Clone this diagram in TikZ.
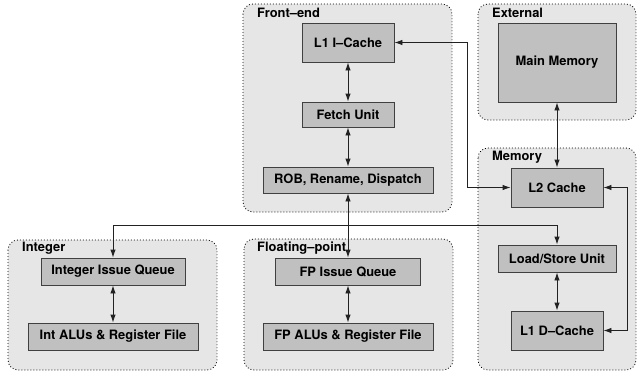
\documentclass[tikz,border=0pt]{standalone}
\usepackage{fontspec}
\setmainfont{TeX Gyre Heros}
\usetikzlibrary{arrows.meta}
\definecolor{grpfill}{HTML}{E6E6E6}
\definecolor{boxfill}{HTML}{C0C0C0}
\definecolor{boxline}{HTML}{404040}
\definecolor{wire}{HTML}{222222}
\tikzset{
  unitbox/.style={draw=boxline, fill=boxfill, line width=0.9pt, inner sep=0pt,
    font=\fontsize{12.9}{15}\selectfont\bfseries},
  grpbox/.style={draw=black, fill=grpfill, line width=0.8pt, dash pattern=on 0.9pt off 2.1pt, rounded corners=10pt},
  grplabel/.style={anchor=west, inner sep=0pt, font=\fontsize{12.9}{15}\selectfont\bfseries},
  wireline/.style={draw=wire, line width=0.9pt, {Latex[length=8pt,width=5.5pt]}-{Latex[length=8pt,width=5.5pt]}}
}
\begin{document}
\begin{tikzpicture}[x=1pt,y=-1pt]
\useasboundingbox (0,0) rectangle (637,372);
% groups
\path[grpbox] (243,4) rectangle (452,212);
\path[grpbox] (478,4) rectangle (636,120);
\path[grpbox] (478,148) rectangle (636,370);
\path[grpbox] (8,240) rectangle (217,370);
\path[grpbox] (244,239) rectangle (453,370);
\node[grplabel] (lfront) at (257,13) {Front–end};
\node[grplabel] (lext) at (492,13) {External};
\node[grplabel] (lmem) at (492,157) {Memory};
\node[grplabel] (lint) at (22,248) {Integer};
\node[grplabel] (lfp) at (257,248) {Floating–point};
% units
\node[unitbox, minimum width=92pt, minimum height=39pt] (L1I) at (348,42.5) {L1 I–Cache};
\node[unitbox, minimum width=92pt, minimum height=25pt] (Fetch) at (348,114.5) {Fetch Unit};
\node[unitbox, minimum width=170pt, minimum height=26pt] (ROB) at (348,180) {ROB, Rename, Dispatch};
\node[unitbox, minimum width=118pt, minimum height=79pt] (MM) at (557,62.5) {Main Memory};
\node[unitbox, minimum width=92pt, minimum height=39pt] (L2) at (557,187.5) {L2 Cache};
\node[unitbox, minimum width=118pt, minimum height=27pt] (LSU) at (557,258.5) {Load/Store Unit};
\node[unitbox, minimum width=92pt, minimum height=39pt] (L1D) at (557,330.5) {L1 D–Cache};
\node[unitbox, minimum width=144pt, minimum height=27pt] (IntQ) at (113,271.5) {Integer Issue Queue};
\node[unitbox, minimum width=170pt, minimum height=27pt] (IntALU) at (113,336.5) {Int ALUs \& Register File};
\node[unitbox, minimum width=145pt, minimum height=27pt] (FPQ) at (348,271.5) {FP Issue Queue};
\node[unitbox, minimum width=170pt, minimum height=27pt] (FPALU) at (348,336.5) {FP ALUs \& Register File};
% helper coordinates
\coordinate (bus) at (348,225.5);
\coordinate (jI) at (467,0);
\coordinate (jD) at (627,0);
% connectors
\draw[wireline] (L1I.south) -- (Fetch.north);
\draw[wireline] (Fetch.south) -- (ROB.north);
\draw[wireline] (ROB.south) -- (FPQ.north);
\draw[wireline] (IntQ.north) -- (IntQ.north |- bus) -- (LSU.north |- bus) -- (LSU.north);
\draw[wireline] (L1I.east) -- (L1I.east -| jI) -- (L2.west -| jI) -- (L2.west);
\draw[wireline] (L2.east) -- (L2.east -| jD) -- (L1D.east -| jD) -- (L1D.east);
\draw[wireline] (MM.south) -- (L2.north);
\draw[wireline] (LSU.south) -- (L1D.north);
\draw[wireline] (IntQ.south) -- (IntALU.north);
\draw[wireline] (FPQ.south) -- (FPALU.north);
\end{tikzpicture}
\end{document}
